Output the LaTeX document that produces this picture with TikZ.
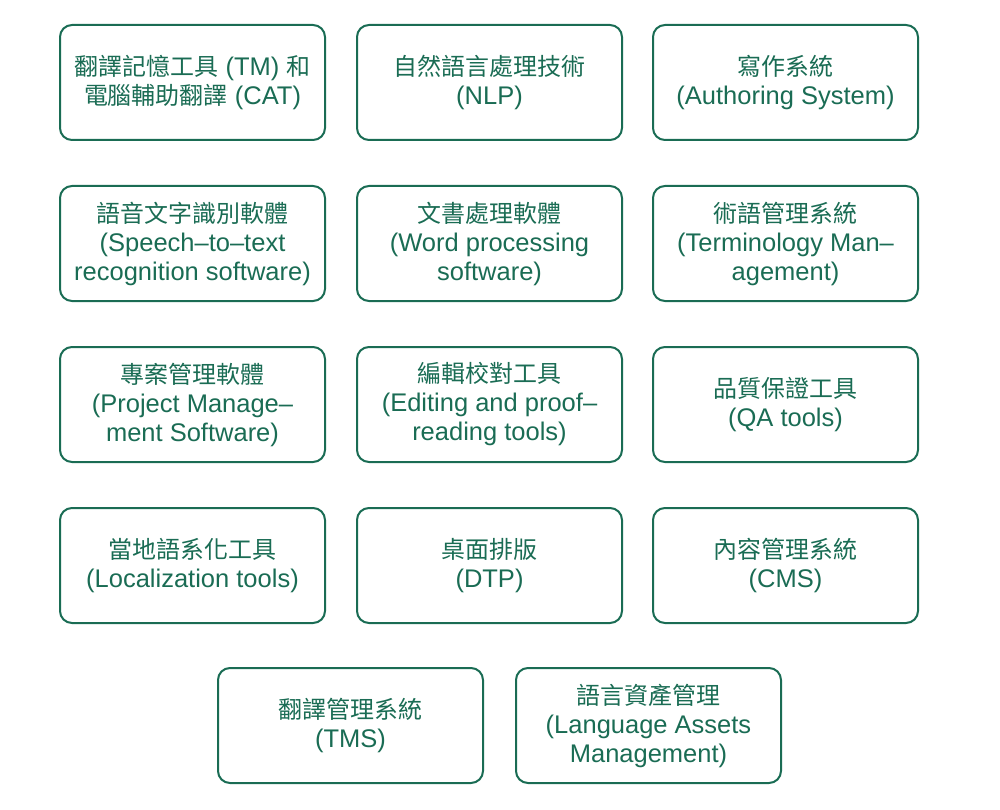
\documentclass[tikz,border=0pt]{standalone}
\usepackage{fontspec}
\setmainfont{Liberation Sans}
\newfontfamily\cjk{Noto Sans CJK TC}[Scale=0.94]
\definecolor{dkgreen}{RGB}{26,108,84}
\begin{document}
\begin{tikzpicture}[x=1pt,y=-1pt,
  card/.style={draw=dkgreen, line width=2pt, rounded corners=12pt, minimum width=265pt, minimum height=115pt,
    text=dkgreen, align=center, font=\fontsize{25.5}{29}\selectfont, inner sep=0pt}]
\useasboundingbox (0,0) rectangle (1000,810);
\node[card] (tm) at (192.5,82.5) {{\cjk 翻譯記憶工具} (TM) {\cjk 和}\\{\cjk 電腦輔助翻譯} (CAT)};
\node[card] (nlp) at (489.5,82.5) {{\cjk 自然語言處理技術}\\(NLP)};
\node[card] (auth) at (785.5,82.5) {{\cjk 寫作系統}\\(Authoring System)};
\node[card] (speech) at (192.5,243.5) {{\cjk 語音文字識別軟體}\\(Speech–to–text\\recognition software)};
\node[card] (word) at (489.5,243.5) {{\cjk 文書處理軟體}\\(Word processing\\software)};
\node[card] (term) at (785.5,243.5) {{\cjk 術語管理系統}\\(Terminology Man–\\agement)};
\node[card] (proj) at (192.5,404.5) {{\cjk 專案管理軟體}\\(Project Manage–\\ment Software)};
\node[card] (edit) at (489.5,404.5) {{\cjk 編輯校對工具}\\(Editing and proof–\\reading tools)};
\node[card] (qa) at (785.5,404.5) {{\cjk 品質保證工具}\\(QA tools)};
\node[card] (loc) at (192.5,565.5) {{\cjk 當地語系化工具}\\(Localization tools)};
\node[card] (dtp) at (489.5,565.5) {{\cjk 桌面排版}\\(DTP)};
\node[card] (cms) at (785.5,565.5) {{\cjk 內容管理系統}\\(CMS)};
\node[card] (tms) at (350.5,725.5) {{\cjk 翻譯管理系統}\\(TMS)};
\node[card] (lam) at (648.5,725.5) {{\cjk 語言資產管理}\\(Language Assets\\Management)};
\end{tikzpicture}
\end{document}
